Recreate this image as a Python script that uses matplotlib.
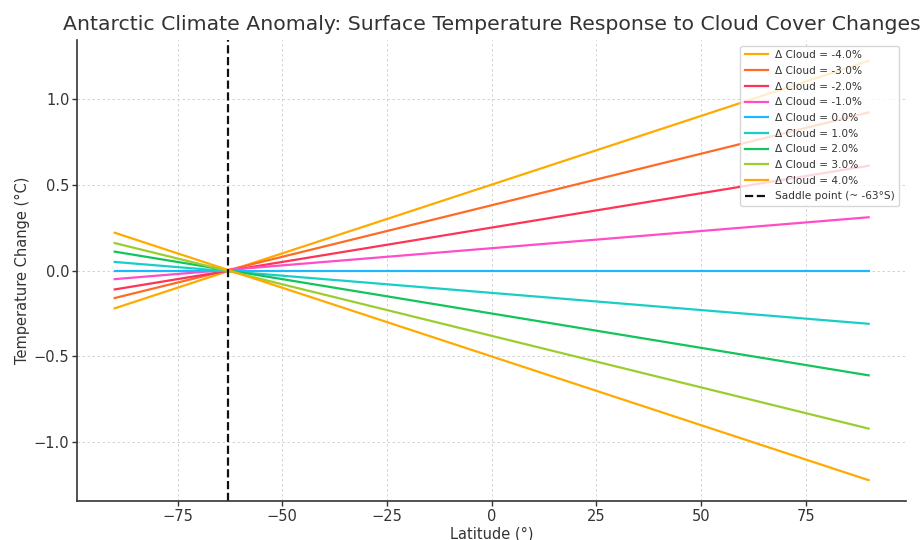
#!/usr/bin/env python3
"""Antarctic surface temperature response to cloud cover changes."""

import matplotlib

matplotlib.use('Agg')
from matplotlib import pyplot as plt  # noqa: E402


# Latitudes where each line starts and ends (deg)
latitude_ends = [-90, 90]
saddle_latitude = -63

cloud_changes = [-4.0, -3.0, -2.0, -1.0, 0.0, 1.0, 2.0, 3.0, 4.0]
# Temperature change (degC) read at latitude -90 and 90
temp_at_south = [-0.22, -0.16, -0.11, -0.05, 0.0, 0.05, 0.11, 0.16, 0.22]
temp_at_north = [1.22, 0.92, 0.61, 0.31, 0.0, -0.31, -0.61, -0.92, -1.22]

line_colors = [
    '#ffaa00', '#ff6a26', '#ff3355', '#ff4dc9', '#1fb8ff',
    '#18cfc6', '#12c45a', '#9bcd2e', '#ffaa00',
]

x_ticks = [-75, -50, -25, 0, 25, 50, 75]
y_ticks = [-1.0, -0.5, 0.0, 0.5, 1.0]

TEXT = '#333333'


def main() -> None:
    plt.rcParams.update({
        'font.family': 'DejaVu Sans',
        'text.color': TEXT,
        'axes.labelcolor': TEXT,
        'xtick.color': TEXT,
        'ytick.color': TEXT,
    })
    figure = plt.figure(figsize=(9.22, 5.4), dpi=100)
    axis = figure.add_axes([0.0835, 0.072, 0.8995, 0.854])

    for change, south, north, color in zip(cloud_changes, temp_at_south, temp_at_north, line_colors):
        axis.plot(
            latitude_ends,
            [south, north],
            color=color,
            linewidth=1.6,
            label=f'Δ Cloud = {change:.1f}%',
        )
    axis.axvline(
        saddle_latitude,
        color='#111111',
        linestyle='--',
        linewidth=1.6,
        label=f'Saddle point (~ {saddle_latitude}°S)',
    )

    axis.set_xticks(x_ticks)
    axis.set_yticks(y_ticks)
    axis.tick_params(labelsize=10.5, length=3.5, width=1.0, pad=2, color='#333333')
    axis.grid(True, linestyle=(0, (3, 3)), linewidth=0.6, color='#cccccc')
    axis.set_axisbelow(True)
    for side in ('top', 'right'):
        axis.spines[side].set_visible(False)
    for side in ('left', 'bottom'):
        axis.spines[side].set_color('#333333')
        axis.spines[side].set_linewidth(1.2)

    axis.set_xlabel('Latitude (°)', fontsize=10.5, labelpad=2)
    axis.set_ylabel('Temperature Change (°C)', fontsize=10.5, labelpad=3)
    axis.set_title(
        'Antarctic Climate Anomaly: Surface Temperature Response to Cloud Cover Changes',
        fontsize=14.7,
        pad=7,
    )
    legend = axis.legend(
        loc='upper right',
        bbox_to_anchor=(0.9915, 0.987),
        borderaxespad=0.0,
        fontsize=7.6,
        frameon=True,
        handlelength=2.2,
        handletextpad=0.7,
        labelspacing=0.54,
        borderpad=0.4,
    )
    legend.get_frame().set_edgecolor('#cccccc')

    figure.savefig('out.png', dpi=100)
    plt.close(figure)


if __name__ == '__main__':
    main()
